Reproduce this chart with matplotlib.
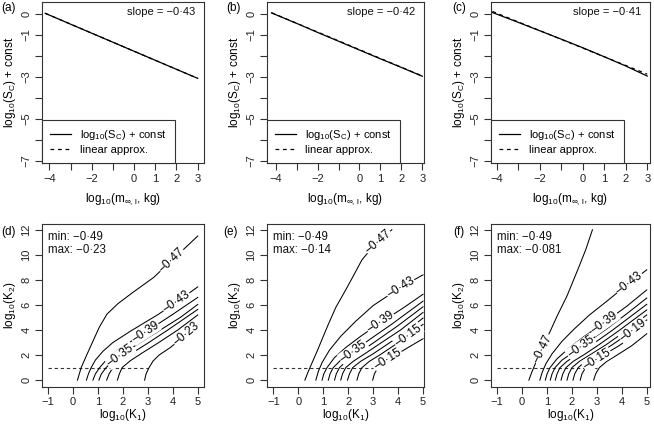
import numpy as np
import matplotlib
matplotlib.use("Agg")
import matplotlib.pyplot as plt

plt.rcParams['font.family'] = ['Liberation Sans', 'DejaVu Sans']
plt.rcParams['mathtext.fontset'] = 'custom'
plt.rcParams['mathtext.rm'] = 'Liberation Sans'
plt.rcParams['mathtext.it'] = 'Liberation Sans:italic'
plt.rcParams['mathtext.sf'] = 'Liberation Sans'

# === top row: log10(S_C) + const against log10(m_inf,l) ===
mass_x = [-4.2, -3, -2, -1, 0, 1, 2, 3]
sc_a = [0.03, -0.49, -0.92, -1.35, -1.78, -2.21, -2.64, -3.07]
sc_b = [0.05, -0.45, -0.88, -1.30, -1.72, -2.14, -2.55, -2.97]
sc_c = [0.07, -0.40, -0.80, -1.20, -1.61, -2.04, -2.48, -2.96]
lin_x = [-4.2, 3]
lin_a = [0.03, -3.07]
lin_b = [0.06, -2.96]
lin_c = [0.12, -2.87]
slopes = ['−0·43', '−0·42', '−0·41']

# === bottom row: contour lines in (log10 K1, log10 K2) ===
d_levels = [-0.47, -0.43, -0.39, -0.35, -0.31, -0.27, -0.23]
d_lines = [
    [(0.18, 0), (0.33, 1), (0.55, 2), (0.8, 3.1), (1.05, 4.2), (1.36, 5.26), (1.8, 6.1), (2.4, 7.0), (3.23, 8.19), (3.96, 9.55), (5.0, 11.5)],
    [(0.54, 0), (0.62, 0.5), (0.73, 1.0), (0.9, 1.6), (1.2, 2.3), (1.6, 3.0), (2.3, 3.9), (3.43, 5.26), (4.2, 6.3), (5.0, 7.44)],
    [(0.8, 0), (0.9, 0.5), (1.07, 1.0), (1.4, 1.75), (1.83, 2.45), (2.3, 3.05), (3.0, 3.95), (4.0, 5.25), (5.0, 6.6)],
    [(1.04, 0), (1.14, 0.5), (1.33, 1.0), (1.65, 1.6), (2.1, 2.25), (2.7, 3.0), (3.5, 4.0), (4.3, 5.0), (5.0, 6.04)],
    [(1.35, 0), (1.45, 0.5), (1.6, 1.0), (1.95, 1.6), (2.4, 2.2), (3.0, 2.95), (3.8, 4.0), (5.0, 5.64)],
    [(1.78, 0), (1.86, 0.5), (1.97, 1.0), (2.3, 1.55), (2.8, 2.2), (3.4, 2.95), (4.2, 4.0), (5.0, 5.2)],
    [(2.87, 0), (2.93, 0.5), (3.05, 1.0), (3.2, 1.5), (3.45, 2.0), (3.9, 2.6), (4.4, 3.4), (5.0, 4.4)],
]
d_labels = [(-0.47, 3.96, '−0·47'), (-0.43, 4.15, '−0·43'), (-0.39, 2.9, '−0·39'),
            (-0.35, 1.9, '−0·35'), (-0.23, 4.55, '−0·23')]
d_range = ['−0·49', '−0·23']

e_levels = [-0.47, -0.43, -0.39, -0.35, -0.31, -0.27, -0.23, -0.19, -0.15]
e_lines = [
    [(0.26, 0), (0.4, 0.7), (0.53, 1.3), (0.75, 2.3), (1.0, 3.5), (1.2, 4.45), (1.5, 5.8), (1.87, 7.1), (2.2, 8.3), (2.55, 9.6), (3.1, 10.9), (3.75, 12.0)],
    [(0.7, 0), (0.8, 0.7), (0.95, 1.4), (1.25, 2.4), (1.7, 3.5), (2.3, 4.7), (3.0, 5.95), (4.1, 7.4), (5.0, 8.4)],
    [(0.95, 0), (1.02, 0.5), (1.15, 1.0), (1.45, 1.8), (1.9, 2.6), (2.5, 3.5), (3.3, 4.6), (4.2, 5.75), (5.0, 6.85)],
    [(1.2, 0), (1.27, 0.5), (1.4, 1.0), (1.7, 1.6), (2.2, 2.3), (2.9, 3.3), (3.7, 4.4), (5.0, 6.3)],
    [(1.45, 0), (1.52, 0.5), (1.65, 1.0), (1.95, 1.55), (2.45, 2.2), (3.1, 3.1), (4.0, 4.35), (5.0, 5.85)],
    [(1.7, 0), (1.77, 0.5), (1.9, 1.0), (2.2, 1.5), (2.7, 2.15), (3.3, 2.95), (4.1, 4.0), (5.0, 5.4)],
    [(1.97, 0), (2.05, 0.5), (2.18, 1.0), (2.5, 1.5), (3.0, 2.1), (3.6, 2.9), (4.3, 3.85), (5.0, 4.95)],
    [(2.35, 0), (2.42, 0.5), (2.55, 1.0), (2.85, 1.5), (3.3, 2.05), (3.9, 2.85), (4.5, 3.7), (5.0, 4.45)],
    [(2.98, 0), (3.05, 0.5), (3.2, 1.0), (3.5, 1.5), (3.9, 2.0), (4.4, 2.6), (5.0, 3.3)],
]
e_labels = [(-0.47, 3.2, '−0·47'), (-0.43, 4.1, '−0·43'), (-0.39, 3.3, '−0·39'),
            (-0.35, 2.2, '−0·35'), (-0.15, 3.6, '−0·15'), (-0.19, 4.4, '−0·15')]
e_range = ['−0·49', '−0·14']

f_levels = [-0.47, -0.43, -0.39, -0.35, -0.31, -0.27, -0.23, -0.19, -0.15, -0.11]
f_lines = [
    [(0.27, 0), (0.4, 0.7), (0.55, 1.4), (0.75, 2.2), (0.92, 2.9), (1.07, 3.66), (1.4, 5.1), (1.8, 6.72), (2.27, 9.0), (2.55, 10.4), (2.82, 12.0)],
    [(0.71, 0), (0.8, 0.6), (0.95, 1.3), (1.2, 2.1), (1.6, 3.1), (2.1, 4.1), (2.7, 5.2), (3.4, 6.3), (4.2, 7.6), (5.0, 8.8)],
    [(0.93, 0), (1.0, 0.5), (1.12, 1.0), (1.4, 1.7), (1.85, 2.5), (2.5, 3.5), (3.3, 4.6), (4.2, 5.9), (5.0, 7.2)],
    [(1.13, 0), (1.2, 0.5), (1.32, 1.0), (1.6, 1.6), (2.0, 2.15), (2.6, 3.0), (3.4, 4.1), (4.2, 5.3), (5.0, 6.55)],
    [(1.33, 0), (1.4, 0.5), (1.52, 1.0), (1.8, 1.5), (2.25, 2.1), (2.85, 2.9), (3.6, 3.95), (5.0, 6.05)],
    [(1.56, 0), (1.63, 0.5), (1.76, 1.0), (2.05, 1.5), (2.5, 2.05), (3.1, 2.85), (3.85, 3.9), (5.0, 5.6)],
    [(1.8, 0), (1.87, 0.5), (2.0, 1.0), (2.3, 1.5), (2.75, 2.05), (3.35, 2.8), (4.1, 3.85), (5.0, 5.2)],
    [(2.04, 0), (2.11, 0.5), (2.25, 1.0), (2.55, 1.5), (3.0, 2.05), (3.6, 2.8), (4.3, 3.75), (5.0, 4.8)],
    [(2.33, 0), (2.4, 0.5), (2.55, 1.0), (2.85, 1.5), (3.3, 2.05), (3.85, 2.7), (4.45, 3.5), (5.0, 4.4)],
    [(2.87, 0), (2.95, 0.5), (3.1, 1.0), (3.4, 1.5), (3.85, 2.05), (4.4, 2.75), (5.0, 3.7)],
]
f_labels = [(-0.47, 0.82, '−0·47'), (-0.43, 4.3, '−0·43'), (-0.39, 3.3, '−0·39'),
            (-0.35, 2.35, '−0·35'), (-0.15, 3.0, '−0·15'), (-0.19, 4.45, '−0·19')]
f_range = ['−0·49', '−0·081']

k2_line_x = [-1, 3]
k2_line_y = [1, 1]

# === layout (pixels) ===
W, H = 654, 429
col_left = [42, 267, 491]
col_width = [162, 157, 159]
top_xlims = [(-4.354, 3.30), (-4.415, 3.08), (-4.265, 3.13)]
bot_xlims = [(-1.24, 5.25), (-1.26, 5.04), (-1.25, 5.13)]
INK = '#333333'


def rect(left, top, width, height):
    return [left / W, 1 - (top + height) / H, width / W, height / H]


def style_axes(ax, width_px, height_px, xlab_off):
    for sp in ax.spines.values():
        sp.set_linewidth(0.8)
        sp.set_color(INK)
    ax.tick_params(direction='out', length=5, width=0.8, color=INK,
                   labelcolor='#222222', labelsize=8)
    ax.tick_params(axis='x', pad=2.5)
    ax.tick_params(axis='y', pad=2.5, labelrotation=90)
    plt.setp(ax.get_yticklabels(), va='center')
    ax.yaxis.set_label_coords(-32 / width_px, 0.5)
    ax.yaxis.label.set_va('center')
    ax.xaxis.set_label_coords(0.5, -xlab_off / height_px)
    ax.xaxis.label.set_va('center')


def draw_contours(ax, levels, lines, labels):
    for pts in lines:
        xs, ys = zip(*pts)
        ax.plot(xs, ys, color='black', lw=0.75)
    for lev, xl, txt in labels:
        xs, ys = zip(*lines[levels.index(lev)])
        yl = np.interp(xl, xs, ys)
        dy = np.interp(xl + 0.1, xs, ys) - np.interp(xl - 0.1, xs, ys)
        ang = np.degrees(np.arctan2(dy, 0.2))
        ax.text(xl, yl, txt, rotation=ang, transform_rotates_text=True,
                rotation_mode='anchor', ha='center', va='center', fontsize=8.5,
                bbox=dict(fc='white', ec='none', pad=0.3))


fig = plt.figure(figsize=(6.54, 4.29), dpi=100)

# --- top row ---
top_sc = [sc_a, sc_b, sc_c]
top_lin = [lin_a, lin_b, lin_c]
for i, tag in enumerate(['(a)', '(b)', '(c)']):
    ax = fig.add_axes(rect(col_left[i], 2, col_width[i], 161.5))
    ax.plot(mass_x, top_sc[i], color='black', lw=0.9, label='log$_{10}$(S$_{\\mathrm{C}}$)$\\,+\\,$const')
    ax.plot(lin_x, top_lin[i], color='black', lw=0.9, dashes=(3, 3), label='linear approx.')
    ax.set_xlim(*top_xlims[i])
    ax.set_ylim(-7.13, 0.57)
    ax.set_xticks(range(-4, 4))
    ax.set_xticklabels(['−4', '', '−2', '', '0', '1', '2', '3'])
    ax.set_yticks(range(0, -8, -1))
    ax.set_yticklabels(['0', '−1', '', '−3', '', '−5', '', '−7'])
    ax.set_xlabel('log$_{10}$(m$_{\\infty,\\,\\mathrm{l}}$, kg)', fontsize=8.5)
    ax.set_ylabel('log$_{10}$(S$_{\\mathrm{C}}$)$\\,+\\,$const', fontsize=8.5)
    style_axes(ax, col_width[i], 161.5, 35.5)
    ax.text(0.945, 0.94, 'slope = ' + slopes[i], transform=ax.transAxes,
            ha='right', va='center', fontsize=8, color='#111111')
    leg = ax.legend(loc='lower left', bbox_to_anchor=(0, 0), borderaxespad=0,
                    fancybox=False, framealpha=1, edgecolor=INK, fontsize=8,
                    handlelength=1.9, handletextpad=0.8, borderpad=0.75,
                    labelspacing=0.25)
    leg.get_frame().set_linewidth(0.8)
    fig.text([9, 233.5, 459][i] / W, 1 - 7.5 / H, tag, ha='center', va='center', fontsize=8.5)

# --- bottom row ---
bot_sets = [(d_levels, d_lines, d_labels, d_range),
            (e_levels, e_lines, e_labels, e_range),
            (f_levels, f_lines, f_labels, f_range)]
for i, tag in enumerate(['(d)', '(e)', '(f)']):
    levels, lines, labels, vrange = bot_sets[i]
    ax = fig.add_axes(rect(col_left[i], 224, col_width[i], 163))
    ax.plot(k2_line_x, k2_line_y, color=INK, lw=0.8, dashes=(3, 2.5))
    draw_contours(ax, levels, lines, labels)
    ax.set_xlim(*bot_xlims[i])
    ax.set_ylim(-0.55, 12.46)
    ax.set_xticks(range(-1, 6))
    ax.set_yticks(range(0, 13, 2))
    ax.set_xlabel('log$_{10}$(K$_1$)', fontsize=8.5)
    ax.set_ylabel('log$_{10}$(K$_2$)', fontsize=8.5)
    style_axes(ax, col_width[i], 163, 28)
    ax.text(0.04, 0.923, 'min: ' + vrange[0], transform=ax.transAxes,
            ha='left', va='center', fontsize=8.3, color='#111111')
    ax.text(0.04, 0.84, 'max: ' + vrange[1], transform=ax.transAxes,
            ha='left', va='center', fontsize=8.3, color='#111111')
    fig.text([9, 231, 459][i] / W, 1 - 232 / H, tag, ha='center', va='center', fontsize=8.5)

fig.savefig('out.png', dpi=100)
